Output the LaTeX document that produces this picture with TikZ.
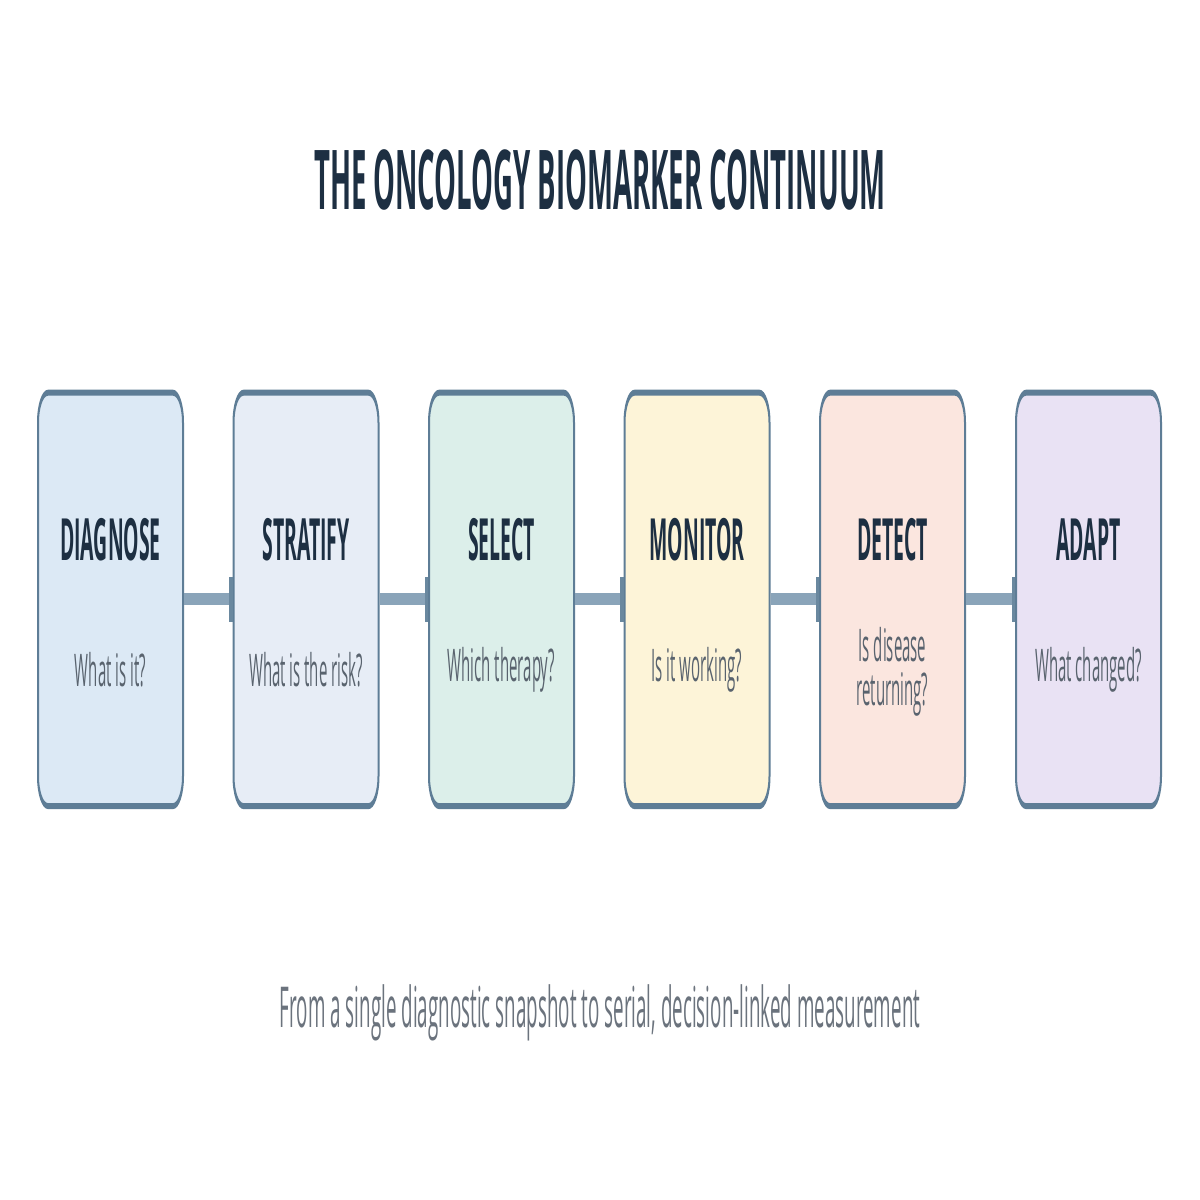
\documentclass[tikz,border=0pt]{standalone}
\usepackage{fontspec}
\setmainfont{Open Sans}
\usetikzlibrary{arrows.meta}
\definecolor{ink}{HTML}{1D2F42}
\definecolor{qgrey}{HTML}{59636E}
\definecolor{capgrey}{HTML}{6B737D}
\definecolor{edge}{HTML}{5E7D96}
\definecolor{conn}{HTML}{8AA4B9}
\definecolor{connTip}{HTML}{6A889F}
\definecolor{fA}{HTML}{DCE9F5}
\definecolor{fB}{HTML}{E7EDF6}
\definecolor{fC}{HTML}{DCEFEA}
\definecolor{fD}{HTML}{FDF4D8}
\definecolor{fE}{HTML}{FBE6DF}
\definecolor{fF}{HTML}{E9E2F4}
\tikzset{
  stagebox/.style={draw=edge, line width=1pt, rounded corners=5pt, minimum width=72.5pt, minimum height=68.9pt, inner sep=0pt},
  stagetitle/.style={font=\bfseries\fontsize{9.7}{11}\selectfont, text=ink, inner sep=0pt},
  stageq/.style={font=\fontsize{7.5}{7.4}\selectfont, text=qgrey, align=center, inner sep=0pt},
  link/.style={draw=conn, line width=2pt, -{Rectangle[length=1.6pt,width=7.5pt,color=connTip]}}
}
\begin{document}
\begin{tikzpicture}[x=0.5pt,y=0.5pt]
\useasboundingbox[fill=white] (0,0) rectangle (1200,-1200);
\begin{scope}[transform canvas={yscale=3}]
\node[font=\bfseries\fontsize{13.76}{16}\selectfont, text=ink, inner sep=0pt] (title) at (600,-60) {THE ONCOLOGY BIOMARKER CONTINUUM};
\node[stagebox, fill=fA] (b1) at (110.5,-199.8) {};
\node[stagebox, fill=fB] (b2) at (306,-199.8) {};
\node[stagebox, fill=fC] (b3) at (501.5,-199.8) {};
\node[stagebox, fill=fD] (b4) at (697,-199.8) {};
\node[stagebox, fill=fE] (b5) at (892.5,-199.8) {};
\node[stagebox, fill=fF] (b6) at (1088.5,-199.8) {};
\node[stagetitle] (t1) at (110.5,-180) {DIAGNOSE};
\node[stagetitle] (t2) at (306,-180) {STRATIFY};
\node[stagetitle] (t3) at (501.5,-180) {SELECT};
\node[stagetitle] (t4) at (697,-180) {MONITOR};
\node[stagetitle] (t5) at (892.5,-180) {DETECT};
\node[stagetitle] (t6) at (1088.5,-180) {ADAPT};
\node[stageq] (q1) at (110.5,-223.3) {What is it?};
\node[stageq] (q2) at (306,-223.3) {What is the risk?};
\node[stageq] (q3) at (501.5,-223.3) {Which therapy?};
\node[stageq] (q4) at (697,-223.3) {Is it working?};
\node[stageq] (q5) at (892.5,-224) {Is disease\\returning?};
\node[stageq] (q6) at (1088.5,-223.3) {What changed?};
\draw[link] (b1.east) -- (b2.west);
\draw[link] (b2.east) -- (b3.west);
\draw[link] (b3.east) -- (b4.west);
\draw[link] (b4.east) -- (b5.west);
\draw[link] (b5.east) -- (b6.west);
\node[font=\fontsize{9.4}{11}\selectfont, text=capgrey, inner sep=0pt] (caption) at (600,-337.7) {From a single diagnostic snapshot to serial, decision-linked measurement};
\end{scope}
\end{tikzpicture}
\end{document}
